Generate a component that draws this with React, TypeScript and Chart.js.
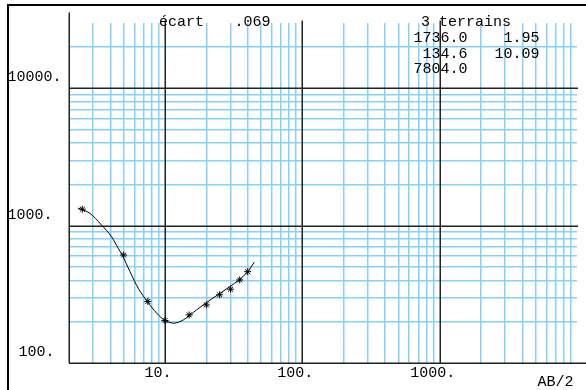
import React, { useEffect, useRef } from 'react';
import { Chart, registerables } from 'chart.js';

Chart.register(...registerables);

// Model curve (AB/2, apparent resistivity)
const curveX = [2.32, 2.84, 3.45, 4.08, 4.56, 4.88, 5.56, 6.38, 7.43, 8.69, 9.88, 11.6, 13.6, 17.0, 21.3, 29.8, 39.4, 44.7];
const curveY = [1345, 1230, 1012, 832, 686, 612, 463, 351, 281, 231, 206, 195, 206, 244, 288, 361, 454, 542];

// Field measurements
const obsX = [2.5, 5, 7.5, 10, 15, 20, 25, 30, 35, 40];
const obsY = [1320, 612, 281, 204, 224, 265, 314, 345, 403, 463];

// Grid
const xMinorGrid = [3, 4, 5, 6, 7, 8, 9, 20, 30, 40, 50, 60, 70, 80, 90, 200, 300, 400, 500, 600, 700, 800, 900, 2000, 3000, 4000, 5000, 6000, 7000, 8000, 9000];
const yMinorGrid = [200, 300, 400, 500, 600, 700, 800, 900, 2000, 3000, 4000, 5000, 6000, 7000, 8000, 9000, 20000];
const xMajor = [10, 100, 1000];
const yMajor = [1000, 10000];

// Tick labels
const xTickValues = [10, 100, 1000];
const xTickLabels = ['10.', '100.', '1000.'];
const yTickValues = [100, 1000, 10000];
const yTickLabels = ['100.', '1000.', '10000.'];
const xAxisTitle = 'AB/2';

// Annotations
const ecartLabel = 'écart';
const ecartValue = '.069';
const layersTitle = '3 terrains';
const resistivities = ['1736.0', '134.6', '7804.0'];
const thicknesses = ['1.95', '10.09'];

const BLUE = '#84d2fc';
const DARK = '#222';
const FONT = '15px "Liberation Mono", "DejaVu Sans Mono", monospace';

const decor = {
  id: 'decor',
  beforeDatasetsDraw(chart: any) {
    const { ctx, chartArea: ca, scales } = chart;
    const x = scales.x;
    const y = scales.y;
    ctx.save();
    ctx.strokeStyle = DARK;
    ctx.lineWidth = 1.5;
    const line = (x1: number, y1: number, x2: number, y2: number) => {
      ctx.beginPath();
      ctx.moveTo(x1, y1);
      ctx.lineTo(x2, y2);
      ctx.stroke();
    };
    xMajor.forEach((v) => {
      const px = Math.round(x.getPixelForValue(v)) + 0.25;
      line(px, 20.5, px, ca.bottom);
    });
    yMajor.forEach((v) => {
      const py = Math.round(y.getPixelForValue(v)) + 0.25;
      line(ca.left, py, ca.right + 1, py);
    });
    const lx = Math.round(ca.left) + 0.25;
    line(lx, 12.5, lx, ca.bottom);
    const by = Math.round(ca.bottom) + 0.25;
    line(ca.left, by, 586, by);
    ctx.restore();
  },
  afterDraw(chart: any) {
    const { ctx, scales } = chart;
    const x = scales.x;
    const y = scales.y;
    ctx.save();
    ctx.fillStyle = '#000';
    ctx.font = FONT;
    ctx.textBaseline = 'alphabetic';

    // y tick labels
    yTickValues.forEach((v, i) => {
      const py = y.getPixelForValue(v) - 7;
      const label = yTickLabels[i];
      ctx.textAlign = 'left';
      const lx = label.length === 4 ? 18.5 : 7.5;
      ctx.fillText(label, lx, py);
    });
    // x tick labels
    xTickValues.forEach((v, i) => {
      const px = x.getPixelForValue(v) - 7;
      ctx.textAlign = 'center';
      ctx.fillText(xTickLabels[i], px, 377);
    });
    ctx.textAlign = 'left';
    ctx.fillText(xAxisTitle, 537.5, 386);

    // annotations
    ctx.fillText(ecartLabel, 159, 26);
    ctx.textAlign = 'right';
    ctx.fillText(ecartValue, 270.5, 26);
    ctx.textAlign = 'left';
    ctx.fillText(layersTitle, 421, 26);
    ctx.textAlign = 'right';
    const rows = [41.5, 57.5, 72.5];
    resistivities.forEach((t, i) => ctx.fillText(t, 467.5, rows[i]));
    thicknesses.forEach((t, i) => ctx.fillText(t, 539.5, rows[i]));

    // frame (top and left)
    ctx.fillStyle = '#000';
    ctx.fillRect(7, 4, 579, 2);
    ctx.fillRect(7, 4, 2, 386);
    ctx.restore();
  },
};

export default function App() {
  const ref = useRef<HTMLCanvasElement>(null);
  useEffect(() => {
    if (!ref.current) return;
    const chart = new Chart(ref.current, {
      type: 'scatter',
      data: {
        datasets: [
          {
            data: curveX.map((v, i) => ({ x: v, y: curveY[i] })),
            showLine: true,
            borderColor: '#000',
            borderWidth: 1,
            pointRadius: 0,
            cubicInterpolationMode: 'monotone',
            fill: false,
          } as any,
          {
            data: obsX.map((v, i) => ({ x: v, y: obsY[i] })),
            showLine: false,
            pointStyle: 'star',
            pointRadius: 3.5,
            borderColor: '#000',
            backgroundColor: '#000',
            borderWidth: 1,
          } as any,
        ],
      },
      options: {
        responsive: false,
        animation: false,
        layout: { padding: { left: 69, top: 23, right: 9, bottom: 27 } },
        plugins: { legend: { display: false }, tooltip: { enabled: false } },
        scales: {
          x: {
            type: 'logarithmic',
            min: 2,
            max: 10000,
            border: { display: false },
            grid: { color: BLUE, lineWidth: 1.5, drawTicks: false },
            ticks: { display: false },
            afterBuildTicks: (s: any) => {
              s.ticks = xMinorGrid.map((v) => ({ value: v }));
            },
            afterFit: (s: any) => {
              s.height = 0;
            },
          },
          y: {
            type: 'logarithmic',
            min: 100,
            max: 30000,
            border: { display: false },
            grid: { color: BLUE, lineWidth: 1.5, drawTicks: false },
            ticks: { display: false },
            afterBuildTicks: (s: any) => {
              s.ticks = yMinorGrid.map((v) => ({ value: v }));
            },
            afterFit: (s: any) => {
              s.width = 0;
            },
          },
        },
      } as any,
      plugins: [decor],
    });
    return () => chart.destroy();
  }, []);
  return (
    <div style={{ position: 'fixed', left: 0, top: 0, width: 586, height: 390, background: '#fff' }}>
      <canvas ref={ref} width={586} height={390} style={{ display: 'block' }} />
    </div>
  );
}
